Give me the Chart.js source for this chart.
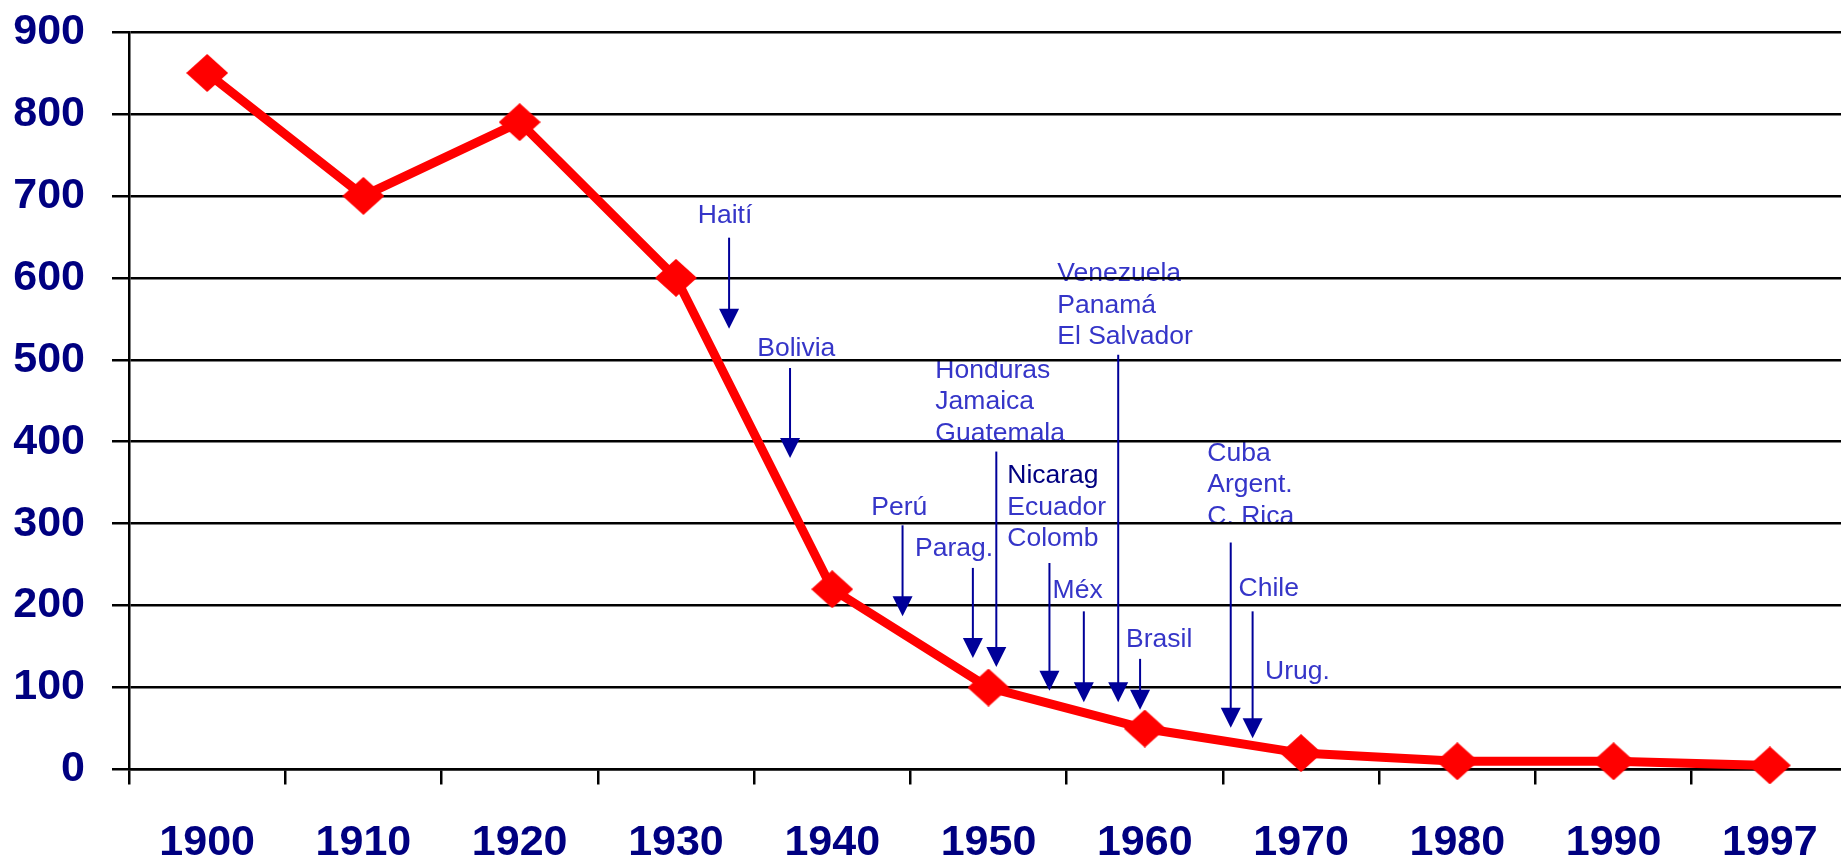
<!DOCTYPE html>
<html>
<head>
<meta charset="utf-8">
<script src="https://cdn.jsdelivr.net/npm/chart.js@4.4.1/dist/chart.umd.min.js"></script>
<style>
    html, body { margin: 0; padding: 0; background: #fff; overflow: hidden; }
    #wrap { position: relative; width: 1848px; height: 857px; }
</style>
</head>
<body>
<div id="wrap"><canvas id="mortChart"></canvas></div>
<script>
// Decades on the x axis and the value for each one
const years = ['1900', '1910', '1920', '1930', '1940', '1950', '1960', '1970', '1980', '1990', '1997'];
const values = [850, 700, 790, 600, 220, 100, 50, 20, 10, 10, 5];
const yTicks = [0, 100, 200, 300, 400, 500, 600, 700, 800, 900];

// Country notes: label lines, where the text sits (year, value) and the arrow (year, from, to)
const noteNames = [
    ['Haití'],
    ['Bolivia'],
    ['Perú'],
    ['Parag.'],
    ['Honduras', 'Jamaica', 'Guatemala'],
    ['Nicarag', 'Ecuador', 'Colomb'],
    ['Méx'],
    ['Venezuela', 'Panamá', 'El Salvador'],
    ['Brasil'],
    ['Cuba', 'Argent.', 'C. Rica'],
    ['Chile'],
    ['Urug.']
];
const noteText = [
    [1931.4, 676], [1935.2, 514], [1942.5, 319], [1945.3, 269],
    [1946.6, 487], [1951.2, 358], [1954.1, 218], [1954.4, 605],
    [1958.8, 158], [1964.0, 386], [1966.0, 221], [1967.7, 119]
];
const noteArrow = [
    [1933.4, 649, 538], [1937.3, 490, 380], [1944.5, 298, 187], [1949.0, 246, 136],
    [1950.5, 388, 125], [1953.9, 252, 96], [1956.1, 193, 82], [1958.3, 506, 82],
    [1959.7, 135, 73], [1965.5, 277, 51], [1966.9, 193, 38], null
];
const darkNames = ['Nicarag'];

const tickFont = { family: '"Liberation Sans", Arial, sans-serif', size: 43, weight: 'bold' };

function yearIndex(y) {
    return (y - 1900) / 10;
}

// slightly flattened red diamond used as the point marker
function makeDiamond(w, h, color) {
    const c = document.createElement('canvas');
    c.width = w;
    c.height = h;
    const g = c.getContext('2d');
    g.fillStyle = color;
    g.beginPath();
    g.moveTo(w / 2, 0);
    g.lineTo(w, h / 2);
    g.lineTo(w / 2, h);
    g.lineTo(0, h / 2);
    g.closePath();
    g.fill();
    return c;
}

// labels sit under the grid lines, arrows go on top of everything
const notesPlugin = {
    id: 'countryNotes',
    beforeDraw(chart) {
        const ctx = chart.ctx;
        const xs = chart.scales.x, ys = chart.scales.y;
        ctx.save();
        ctx.font = '26.5px "Liberation Sans", Arial, sans-serif';
        ctx.textAlign = 'left';
        ctx.textBaseline = 'middle';
        noteNames.forEach((lines, i) => {
            const x = xs.getPixelForValue(yearIndex(noteText[i][0]));
            const y0 = ys.getPixelForValue(noteText[i][1]);
            lines.forEach((t, j) => {
                ctx.fillStyle = darkNames.includes(t) ? '#000080' : '#3535c8';
                ctx.fillText(t, x, y0 + j * 31.5);
            });
        });
        ctx.restore();
    },
    afterDatasetsDraw(chart) {
        const ctx = chart.ctx;
        const xs = chart.scales.x, ys = chart.scales.y;
        ctx.save();
        ctx.strokeStyle = '#000099';
        ctx.fillStyle = '#000099';
        ctx.lineWidth = 2;
        noteArrow.forEach(a => {
            if (!a) return;
            const x = xs.getPixelForValue(yearIndex(a[0]));
            const top = ys.getPixelForValue(a[1]);
            const tip = ys.getPixelForValue(a[2]);
            ctx.beginPath();
            ctx.moveTo(x, top);
            ctx.lineTo(x, tip - 18);
            ctx.stroke();
            ctx.beginPath();
            ctx.moveTo(x - 10, tip - 20);
            ctx.lineTo(x + 10, tip - 20);
            ctx.lineTo(x, tip);
            ctx.closePath();
            ctx.fill();
        });
        ctx.restore();
    }
};

new Chart(document.getElementById('mortChart').getContext('2d'), {
    type: 'line',
    data: {
        labels: years,
        datasets: [{
            data: values,
            borderColor: '#ff0000',
            backgroundColor: '#ff0000',
            borderWidth: 9,
            tension: 0,
            pointStyle: makeDiamond(42, 38, '#ff0000'),
            pointRadius: 20,
            pointHoverRadius: 20,
            clip: false
        }]
    },
    options: {
        responsive: true,
        maintainAspectRatio: false,
        animation: false,
        layout: { autoPadding: false, padding: { top: 32, right: 0, bottom: 0, left: 0 } },
        plugins: {
            legend: { display: false },
            tooltip: { enabled: false }
        },
        scales: {
            x: {
                offset: true,
                grid: {
                    offset: true,
                    drawOnChartArea: false,
                    color: '#000',
                    lineWidth: 2.5,
                    tickLength: 15
                },
                border: { display: true, color: '#000', width: 2.5 },
                ticks: {
                    color: '#000080',
                    font: tickFont,
                    padding: 33,
                    maxRotation: 0,
                    autoSkip: false
                },
                afterFit(scale) {
                    scale.height = 87.5;
                    scale.paddingLeft = 0;
                    scale.paddingRight = 0;
                }
            },
            y: {
                min: 0,
                max: 900,
                afterBuildTicks(scale) {
                    scale.ticks = yTicks.map(v => ({ value: v }));
                },
                grid: {
                    color: '#000',
                    lineWidth: 2.5,
                    tickLength: 17
                },
                border: { color: '#000', width: 2.5 },
                ticks: {
                    color: '#000080',
                    font: tickFont,
                    padding: 27
                },
                afterFit(scale) {
                    scale.width = 129;
                    scale.paddingTop = 0;
                    scale.paddingBottom = 0;
                }
            }
        }
    },
    plugins: [notesPlugin]
});
</script>
</body>
</html>
